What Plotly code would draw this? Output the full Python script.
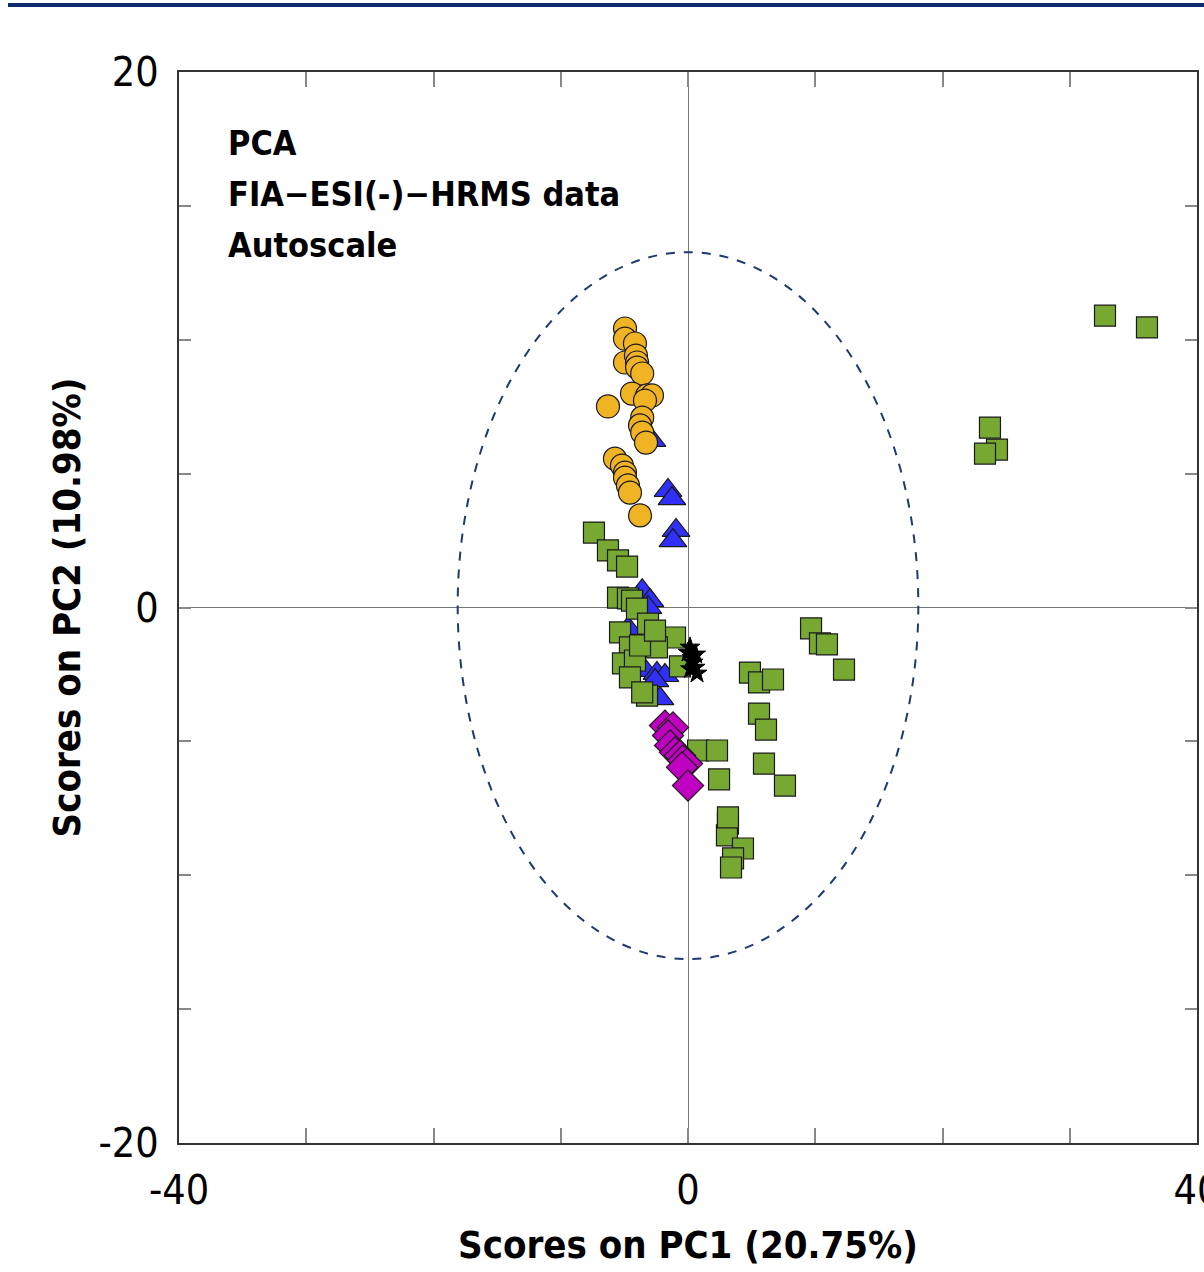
import plotly.graph_objects as go

# ---- data ----
orange_x = [-4.95, -4.95, -4.17, -4.95, -4.09, -4.0, -4.0, -3.6, -4.4, -6.29, -3.22, -2.83,
            -3.38, -3.6, -3.77, -3.6, -3.3, -5.74, -5.19, -4.95, -4.95, -4.72, -4.56, -3.77]
orange_y = [10.42, 10.04, 9.86, 9.15, 9.41, 9.15, 8.96, 8.74, 7.99, 7.51, 7.92, 7.92,
            7.73, 7.09, 6.8, 6.53, 6.16, 5.56, 5.3, 5.04, 4.85, 4.56, 4.29, 3.44]

blue_x = [-1.57, -1.26, -0.94, -1.18, -2.83, -3.6, -2.99, -3.14, -4.7, -3.38, -2.44, -1.81, -2.2, -2.59]
blue_y = [4.37, 4.07, 2.88, 2.5, 6.24, 0.63, 0.26, 0.0, -0.78, -2.35, -2.46, -2.54, -3.4, -2.73]

green_x = [-7.39, -6.29, -5.5, -4.79, -5.5, -4.72, -4.4, -4.01, -3.14, -5.34, -4.56, -1.02,
           -2.44, -5.11, -4.17, -4.56, -3.22, -3.6, -0.63, -3.77, -2.59,
           0.79, 2.28, 2.44, 4.87, 5.58, 6.68, 5.58, 6.13, 5.97, 7.62,
           3.14, 3.06, 4.32, 3.54, 3.38, 3.14,
           9.67, 10.37, 10.92, 12.26, 32.77, 36.07, 23.73, 24.28, 23.34]
green_y = [2.80, 2.13, 1.76, 1.53, 0.37, 0.34, 0.26, -0.04, -0.6, -0.93, -1.49, -1.12,
           -1.49, -2.09, -1.98, -2.61, -3.29, -3.17, -2.2, -1.42, -0.86,
           -5.34, -5.34, -6.42, -2.43, -2.8, -2.69, -3.96, -4.56, -5.83, -6.65,
           -8.07, -8.51, -9.0, -9.37, -9.71, -7.84,
           -0.78, -1.34, -1.38, -2.32, 10.9, 10.46, 6.72, 5.9, 5.75]

magenta_x = [-1.81, -1.18, -1.57, -1.41, -1.02, -0.63, -0.39, -0.08, -0.47, 0.0]
magenta_y = [-4.41, -4.48, -4.78, -5.15, -5.41, -5.53, -5.71, -5.83, -5.97, -6.65]

black_x = [0.16, 0.31, 0.55, 0.0, 0.71, 0.4, 0.2, 0.6]
black_y = [-1.49, -1.87, -2.24, -1.68, -2.46, -2.05, -2.3, -1.75]

# confidence ellipse (centre and semi-axes)
ell_cx, ell_cy, ell_rx, ell_ry = 0.0, 0.07, 18.1, 13.2

x_ticks = [-40, -30, -20, -10, 0, 10, 20, 30, 40]
x_ticktext = ["-40", "", "", "", "0", "", "", "", "40"]
y_ticks = [-20, -15, -10, -5, 0, 5, 10, 15, 20]
y_ticktext = ["-20", "", "", "", "0", "", "", "", "20"]

FONT = "DejaVu Sans Condensed, Roboto, sans-serif"

fig = go.Figure()

def add(x, y, symbol, color, size, line_color="#1a1a1a", lw=1.2):
    fig.add_trace(go.Scatter(x=x, y=y, mode="markers",
                             marker=dict(symbol=symbol, color=color, size=size,
                                         line=dict(color=line_color, width=lw)),
                             showlegend=False, hoverinfo="x+y"))

add(blue_x, blue_y, "triangle-up", "#3030F8", 24)
add(green_x, green_y, "square", "#76A832", 21)
add(orange_x, orange_y, "circle", "#F0B323", 23)
add(magenta_x, magenta_y, "diamond", "#C000C0", 24)
add(black_x, black_y, "star", "#000000", 15, "#000000", 1)

# dashed ellipse
fig.add_shape(type="circle", xref="x", yref="y",
              x0=ell_cx - ell_rx, x1=ell_cx + ell_rx, y0=ell_cy - ell_ry, y1=ell_cy + ell_ry,
              line=dict(color="#1F3A6E", width=2, dash="dash"), layer="above")

# top decorative rule
fig.add_shape(type="line", xref="paper", yref="paper", x0=-0.168, x1=1.01, y0=1.0626, y1=1.0626,
              line=dict(color="#0B2C6E", width=4))

for i, txt in enumerate(["PCA", "FIA\u2212ESI(-)\u2212HRMS data", "Autoscale"]):
    fig.add_annotation(xref="paper", yref="paper", x=0.046, y=0.9337 - i * 0.0476,
                       text="<b>" + txt + "</b>", showarrow=False, xanchor="left", yanchor="middle",
                       font=dict(family=FONT, size=34, color="#000000"))

axis_common = dict(showline=True, linecolor="#333333", linewidth=2, mirror="ticks",
                   ticks="inside", tickcolor="#888888", tickwidth=1.5,
                   showgrid=False, zeroline=True, zerolinecolor="#777777", zerolinewidth=1.2,
                   ticklabeloverflow="allow", automargin=False,
                   tickfont=dict(family=FONT, size=41, color="#000000"))

fig.update_xaxes(range=[-40, 40], tickvals=x_ticks, ticktext=x_ticktext, ticklen=15,
                 ticklabelstandoff=10,
                 title=dict(text="<b>Scores on PC1 (20.75%)</b>", font=dict(family=FONT, size=38, color="#000000"),
                            standoff=18),
                 **axis_common)
fig.update_yaxes(range=[-20, 20], tickvals=y_ticks, ticktext=y_ticktext, ticklen=12,
                 ticklabelstandoff=10,
                 title=dict(text="<b>Scores on PC2 (10.98%)</b>", font=dict(family=FONT, size=38, color="#000000"),
                            standoff=6),
                 **axis_common)

fig.update_layout(width=1204, height=1272, margin=dict(l=179, r=7, t=72, b=129),
                  plot_bgcolor="white", paper_bgcolor="white")

fig.write_html("out.html", config={"displayModeBar": False},
               post_script="document.body.style.margin='0px';")
